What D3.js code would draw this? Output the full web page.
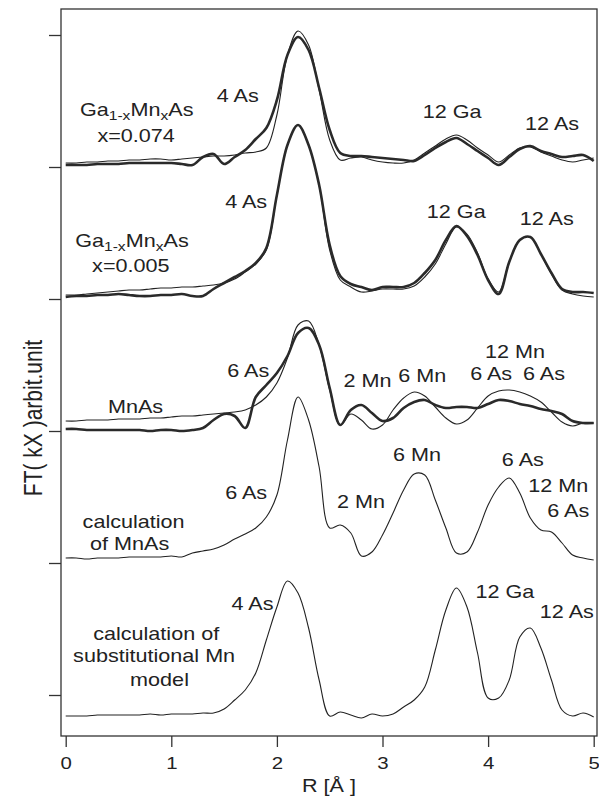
<!DOCTYPE html>
<meta charset="utf-8">
<head>
    <title>FT Mn K-edge</title>
</head>

<style>

body {
  margin: 0;
  background: #fff;
}

.frame {
  fill: none;
  stroke: #333;
  stroke-width: 1.3px;
}

.axis path {
  display: none;
}

.axis line {
  stroke: #333;
  stroke-width: 1.3px;
}

.axis text {
  font: 17px "Liberation Sans", Arial, sans-serif;
  fill: #222;
}

.curve {
  fill: none;
  stroke-linejoin: round;
}

.exp {
  stroke: #2a2a2a;
  stroke-width: 2.6px;
}

.fit {
  stroke: #222;
  stroke-width: 1.1px;
}

.label {
  font: 18px "Liberation Sans", Arial, sans-serif;
  fill: #222;
}

</style>
<body>
<script src="https://cdn.jsdelivr.net/npm/d3@7"></script>
<script>

// R grid [Å], 0 .. 5 step 0.1
var rGrid = [0.0,0.1,0.2,0.3,0.4,0.5,0.6,0.7,0.8,0.9,
             1.0,1.1,1.2,1.3,1.4,1.5,1.6,1.7,1.8,1.9,
             2.0,2.1,2.2,2.3,2.4,2.5,2.6,2.7,2.8,2.9,
             3.0,3.1,3.2,3.3,3.4,3.5,3.6,3.7,3.8,3.9,
             4.0,4.1,4.2,4.3,4.4,4.5,4.6,4.7,4.8,4.9,5.0];

// offset ticks on the (unlabelled) y axis, arbitrary units
var yTicks = [0, 132, 264, 396, 528, 660];
var xTicks = [0, 1, 2, 3, 4, 5];

// Ga1-xMnxAs x=0.074 : experiment (thick) and fit (thin)
var ga074Exp = [530,530,530,531,531,531,532,532,532,532,
                532,531,530,538,541,531,538,545,556,567,
                595,640,658,645,607,565,542,539,539,538,
                537,536,535,534,540,547,553,557,551,544,
                537,530,538,546,549,544,541,538,539,540,534];
var ga074Fit = [532,532,533,533,534,534,535,535,536,536,
                535,536,537,538,539,539,540,542,543,547,
                580,640,664,650,605,555,535,537,538,535,
                533,532,532,535,542,549,556,560,555,547,
                540,533,540,547,548,543,539,535,533,535,537];

// Ga1-xMnxAs x=0.005
var ga005Exp = [398,399,399,400,400,401,400,399,399,400,
                400,401,399,399,406,412,418,424,432,447,
                500,550,570,550,510,450,419,411,408,405,
                408,408,408,412,422,435,455,469,459,440,
                415,401,433,455,458,441,422,406,403,403,402];
var ga005Fit = [400,400,401,402,403,404,405,405,406,407,
                407,408,408,409,410,412,416,423,431,445,
                500,550,570,550,510,445,415,408,403,404,
                406,406,406,409,418,431,451,468,461,442,
                416,403,433,455,458,441,421,405,401,399,398];

// MnAs
var mnasExp = [266,266,265,265,265,265,265,265,264,265,
               265,264,265,267,275,281,279,267,298,310,
               322,339,362,367,350,307,270,285,290,282,
               274,277,287,293,295,290,287,288,288,287,
               291,295,294,291,289,286,284,281,274,272,272];
var mnasFit = [274,274,275,275,275,276,276,276,277,277,
               278,279,279,280,281,282,283,285,290,298,
               312,337,370,374,350,305,270,281,275,266,
               270,285,297,303,299,288,277,271,275,287,
               299,304,305,303,299,293,283,273,269,272,272];

// calculation of MnAs
var mnasCalc = [137,137,136,137,137,137,138,138,138,138,
                139,138,142,144,146,150,156,161,167,178,
                200,255,298,275,228,167,170,162,139,143,
                160,182,205,221,220,195,167,142,143,163,
                190,208,217,202,177,165,163,152,140,137,135];

// calculation of substitutional Mn model
var substCalc = [-21,-21,-21,-20,-20,-20,-20,-20,-19,-20,
                 -19,-19,-19,-18,-18,-14,-5,5,22,55,
                 88,114,102,67,15,-21,-17,-20,-23,-19,
                 -21,-19,-12,-5,8,45,85,107,88,42,
                 -3,-3,15,58,67,47,15,-15,-21,-18,-22];

// peak / sample labels, placed in data coordinates [R, y]
// each text is a list of segments, second item 1 = subscript
var labels = [
  {t: [["4 As"]], r: 1.43, v: 593},
  {t: [["Ga"], ["1-x", 1], ["Mn"], ["x", 1], ["As"]], r: 0.135, v: 579},
  {t: [["x=0.074"]], r: 0.30, v: 553},
  {t: [["12 Ga"]], r: 3.38, v: 577},
  {t: [["12 As"]], r: 4.35, v: 565},
  {t: [["4 As"]], r: 1.51, v: 487},
  {t: [["Ga"], ["1-x", 1], ["Mn"], ["x", 1], ["As"]], r: 0.09, v: 448},
  {t: [["x=0.005"]], r: 0.25, v: 423},
  {t: [["12 Ga"]], r: 3.42, v: 477},
  {t: [["12 As"]], r: 4.30, v: 470},
  {t: [["6 As"]], r: 1.53, v: 318},
  {t: [["MnAs"]], r: 0.40, v: 282},
  {t: [["2 Mn"]], r: 2.63, v: 308},
  {t: [["6 Mn"]], r: 3.15, v: 313},
  {t: [["12 Mn"]], r: 3.97, v: 337},
  {t: [["6 As"]], r: 3.83, v: 315},
  {t: [["6 As"]], r: 4.33, v: 315},
  {t: [["6 As"]], r: 1.51, v: 196},
  {t: [["calculation"]], r: 0.16, v: 167},
  {t: [["of MnAs"]], r: 0.23, v: 145},
  {t: [["2 Mn"]], r: 2.57, v: 187},
  {t: [["6 Mn"]], r: 3.10, v: 234},
  {t: [["6 As"]], r: 4.13, v: 229},
  {t: [["12 Mn"]], r: 4.38, v: 203},
  {t: [["6 As"]], r: 4.56, v: 178},
  {t: [["4 As"]], r: 1.57, v: 85},
  {t: [["calculation of"]], r: 0.26, v: 55},
  {t: [["substitutional Mn"]], r: 0.07, v: 33},
  {t: [["model"]], r: 0.61, v: 9},
  {t: [["12 Ga"]], r: 3.88, v: 97},
  {t: [["12 As"]], r: 4.49, v: 77}
];

var curves = [
  {values: ga074Fit, cls: "fit"},
  {values: ga074Exp, cls: "exp"},
  {values: ga005Fit, cls: "fit"},
  {values: ga005Exp, cls: "exp"},
  {values: mnasFit, cls: "fit"},
  {values: mnasExp, cls: "exp"},
  {values: mnasCalc, cls: "fit"},
  {values: substCalc, cls: "fit"}
];

var width = 599, height = 802;
var frame = {left: 61, right: 597, top: 9, bottom: 736};
var stretch = 1.2;   // the scanned figure is wider than tall

var x = d3.scaleLinear()
    .domain([0, 5])
    .range([65.7, 593.7]);

var y = d3.scaleLinear()
    .domain([-41, 686])
    .range([frame.bottom, frame.top]);

var line = d3.line()
    .x(function(d) { return x(d[0]); })
    .y(function(d) { return y(d[1]); })
    .curve(d3.curveCatmullRom.alpha(0.5));

var svg = d3.select("body").append("svg")
    .attr("width", width)
    .attr("height", height);

svg.append("rect")
    .attr("class", "frame")
    .attr("x", frame.left)
    .attr("y", frame.top)
    .attr("width", frame.right - frame.left)
    .attr("height", frame.bottom - frame.top);

// axes
var xAxis = svg.append("g")
    .attr("class", "axis axis--x")
    .attr("transform", "translate(0," + frame.bottom + ")")
    .call(d3.axisBottom(x).tickValues(xTicks).tickSize(11).tickPadding(10)
          .tickFormat(d3.format("d")));
xAxis.selectAll("text")
    .attr("transform", "scale(" + stretch + ",1)");

svg.append("g")
    .attr("class", "axis axis--y")
    .attr("transform", "translate(" + frame.left + ",0)")
    .call(d3.axisLeft(y).tickValues(yTicks).tickSize(12).tickFormat(""));

// curves
svg.selectAll(".curve")
    .data(curves)
  .enter().append("path")
    .attr("class", function(d) { return "curve " + d.cls; })
    .attr("d", function(d) {
      return line(d.values.map(function(v, i) { return [rGrid[i], v]; }));
    });

// labels
var lab = svg.selectAll(".label")
    .data(labels)
  .enter().append("text")
    .attr("class", "label")
    .attr("transform", function(d) {
      return "translate(" + x(d.r) + "," + y(d.v) + ") scale(" + stretch + ",1)";
    });

lab.each(function(d) {
  var t = d3.select(this);
  d.t.forEach(function(seg, i) {
    var s = t.append("tspan").text(seg[0]);
    var prev = i > 0 ? d.t[i - 1][1] : 0;
    if (seg[1]) s.style("font-size", "13px");
    if (seg[1] && !prev) s.attr("dy", 4);
    else if (!seg[1] && prev) s.attr("dy", -4);
  });
});

// axis titles
svg.append("text")
    .attr("class", "label")
    .attr("text-anchor", "middle")
    .attr("transform", "translate(" + ((frame.left + frame.right) / 2) + ",792) scale(" + stretch + ",1)")
    .text("R [Å ]");

svg.append("text")
    .attr("class", "label")
    .attr("text-anchor", "middle")
    .style("font-size", "21px")
    .attr("transform", "translate(42,418) rotate(-90) scale(1," + stretch + ")")
    .text("FT( kX )arbit.unit");

</script>
